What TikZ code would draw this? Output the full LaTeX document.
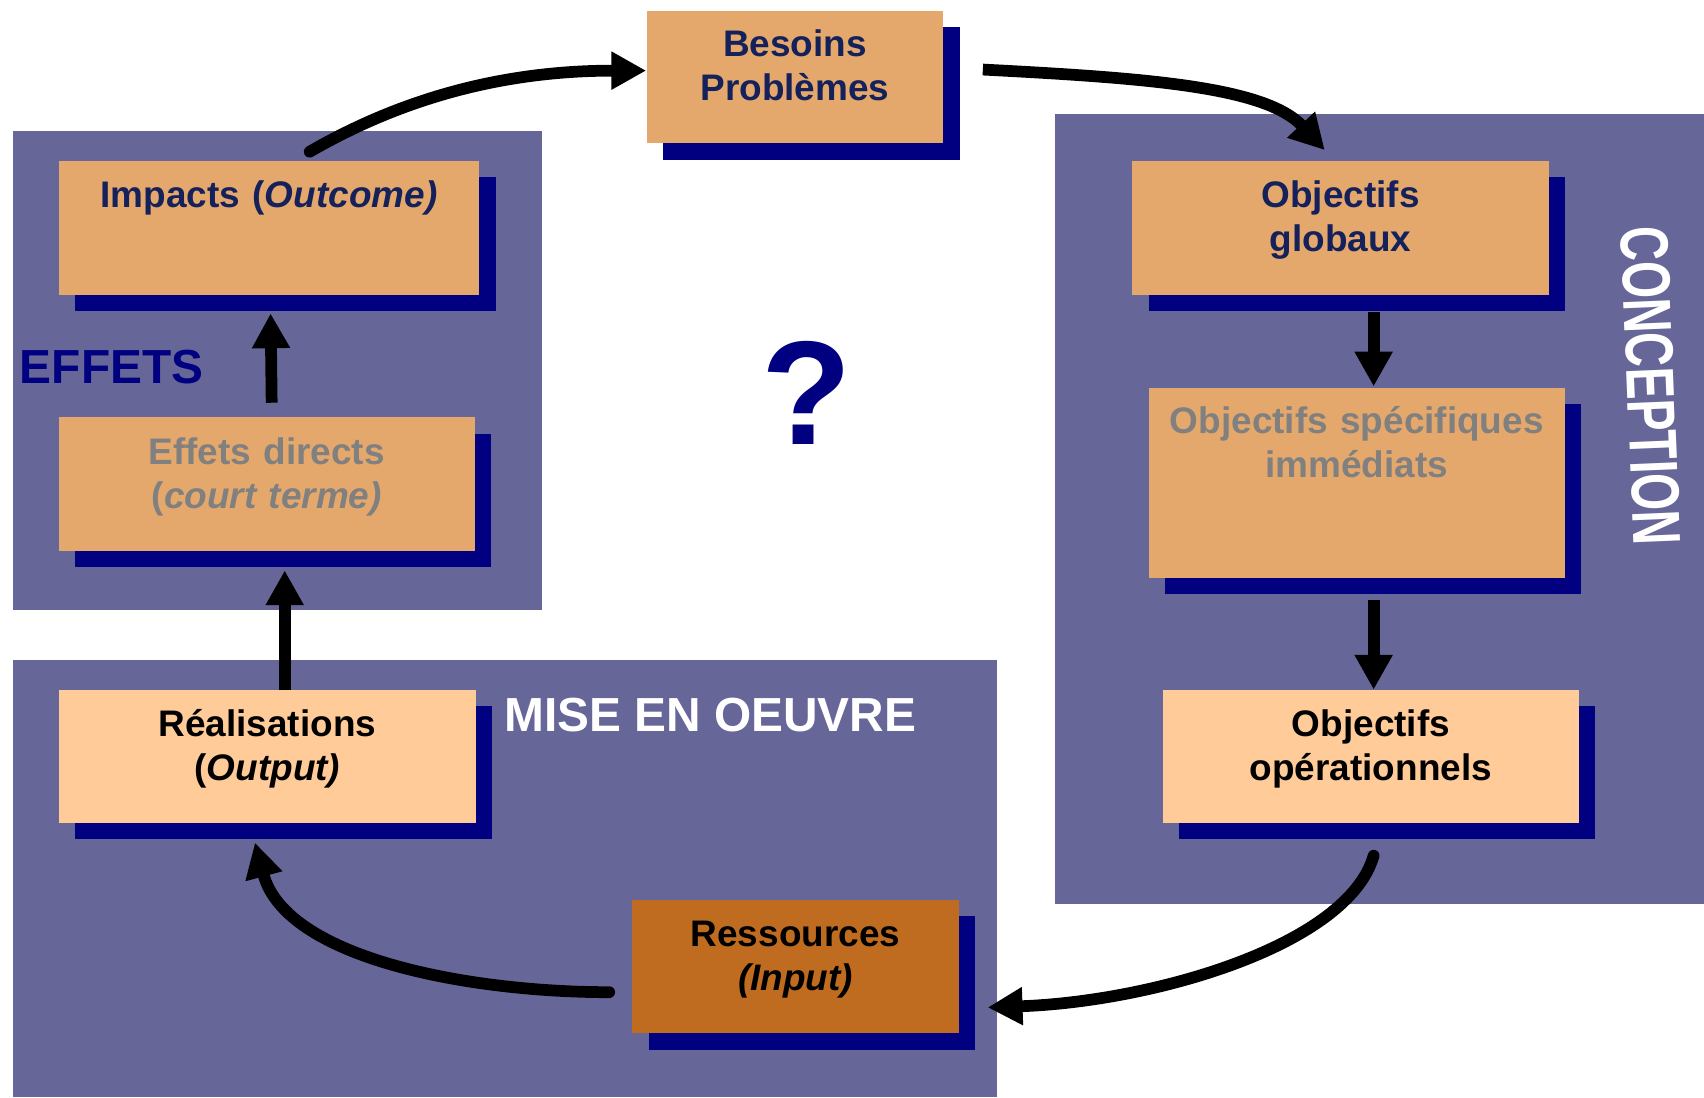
\documentclass[tikz,border=0pt]{standalone}
\usepackage{fontspec}
\setmainfont{Liberation Sans}
\usetikzlibrary{arrows.meta,shadows}
\definecolor{panel}{RGB}{102,102,153}
\definecolor{shade}{RGB}{0,0,128}
\definecolor{boxorange}{RGB}{229,168,108}
\definecolor{boxpeach}{RGB}{255,204,153}
\definecolor{boxbrown}{RGB}{192,108,32}
\definecolor{navytext}{RGB}{20,33,90}
\definecolor{graytext}{RGB}{128,128,128}
\definecolor{navylabel}{RGB}{0,0,128}
\begin{document}
\begin{tikzpicture}[x=0.5pt,y=-0.5pt,
  box/.style={draw=none, inner sep=0pt,
    general shadow={fill=shade, shadow xshift=7.5pt, shadow yshift=-7.5pt}},
  txt/.style={inner sep=0pt, text width=188pt, align=center, anchor=base,
    font=\fontsize{17}{20.25}\selectfont\bfseries},
  biglabel/.style={inner sep=0pt, font=\fontsize{22}{26}\selectfont\bfseries},
  arr/.style={line width=5.4pt, -{Triangle[length=16pt,width=16.5pt]}}]
\useasboundingbox (0,0) rectangle (1568,1009.5);
% panels
\fill[panel] (12,121) rectangle (499,561);
\fill[panel] (12,607) rectangle (917,1009.5);
\fill[panel] (971,105) rectangle (1568,832);
% boxes
\node[box, fill=boxorange, minimum width=136.5pt, minimum height=61pt] (besoins) at (731.5,71) {};
\node[box, fill=boxorange, minimum width=193.5pt, minimum height=61.5pt] (impacts) at (247.5,209.5) {};
\node[box, fill=boxorange, minimum width=191.5pt, minimum height=61.5pt] (effets) at (245.5,445.5) {};
\node[box, fill=boxpeach, minimum width=192pt, minimum height=61pt] (real) at (246,696) {};
\node[box, fill=boxbrown, minimum width=150pt, minimum height=61.5pt] (ress) at (732,889.5) {};
\node[box, fill=boxorange, minimum width=191.5pt, minimum height=61.5pt] (glob) at (1233.5,209.5) {};
\node[box, fill=boxorange, minimum width=191.5pt, minimum height=87.5pt] (spec) at (1248.5,444.5) {};
\node[box, fill=boxpeach, minimum width=191.5pt, minimum height=61pt] (op) at (1261.5,696) {};
% box texts
\node[txt, text=navytext] (besoinsT) at ([shift={(0,42.5)}]besoins.north) {Besoins\\Problèmes};
\node[txt, text=navytext] (impactsT) at ([shift={(0,43.5)}]impacts.north) {Impacts (\textit{Outcome)}};
\node[txt, text=graytext] (effetsT) at ([shift={(0,43.5)}]effets.north) {Effets directs\\(\textit{court terme)}};
\node[txt, text=black] (realT) at ([shift={(0,43.5)}]real.north) {Réalisations\\(\textit{Output)}};
\node[txt, text=black] (ressT) at ([shift={(0,43.5)}]ress.north) {Ressources\\\textit{(Input)}};
\node[txt, text=navytext] (globT) at ([shift={(0,43.5)}]glob.north) {Objectifs\\globaux};
\node[txt, text=graytext] (specT) at ([shift={(0,42.5)}]spec.north) {Objectifs spécifiques\\immédiats};
\node[txt, text=black] (opT) at ([shift={(0,43.5)}]op.north) {Objectifs\\opérationnels};
% labels
\node[biglabel, anchor=base west, text=navylabel] (effetsL) at (18,352.6) {EFFETS};
\node[biglabel, anchor=base west, text=white] (miseL) at (463.6,673) {MISE EN OEUVRE};
\node[biglabel, rotate=-87.6, text=white] (concL) at (1519,355) {\scalebox{1}[1.42]{CONCEPTION}};
\node[inner sep=0pt, text=navylabel, font=\fontsize{68}{80}\selectfont\bfseries] (quest) at (742,361.5) {?};
% arrows
\draw[arr, line cap=round] ([shift={(37.5,-8)}]impacts.north) to[out=30,in=180,out distance=50pt,in distance=65pt] ([shift={(0,-6)}]besoins.west);
\draw[arr] ([shift={(36,-7)}]besoins.east) to[out=-3,in=133,out distance=75pt,in distance=40pt] ([shift={(-14.5,-9.5)}]glob.north);
\draw[arr] ([shift={(30.5,16)}]glob.south) -- ([shift={(15.5,-1)}]spec.north);
\draw[arr] ([shift={(15.5,20)}]spec.south) -- ([shift={(2.5,0)}]op.north);
\draw[arr, line cap=round] ([shift={(2.5,30)}]op.south) to[out=-106,in=2,out distance=43pt,in distance=76pt] ([shift={(26.5,37.5)}]ress.east);
\draw[arr, line cap=round] ([shift={(-21,23.5)}]ress.west) to[out=180,in=-75,out distance=65pt,in distance=55pt] ([shift={(-11.4,18)}]real.south);
\draw[arr] ([shift={(16,0)}]real.north) -- ([shift={(16.5,17.5)}]effets.south);
\draw[arr] ([shift={(4.5,-13)}]effets.north) -- ([shift={(1.5,17)}]impacts.south);
\end{tikzpicture}
\end{document}
